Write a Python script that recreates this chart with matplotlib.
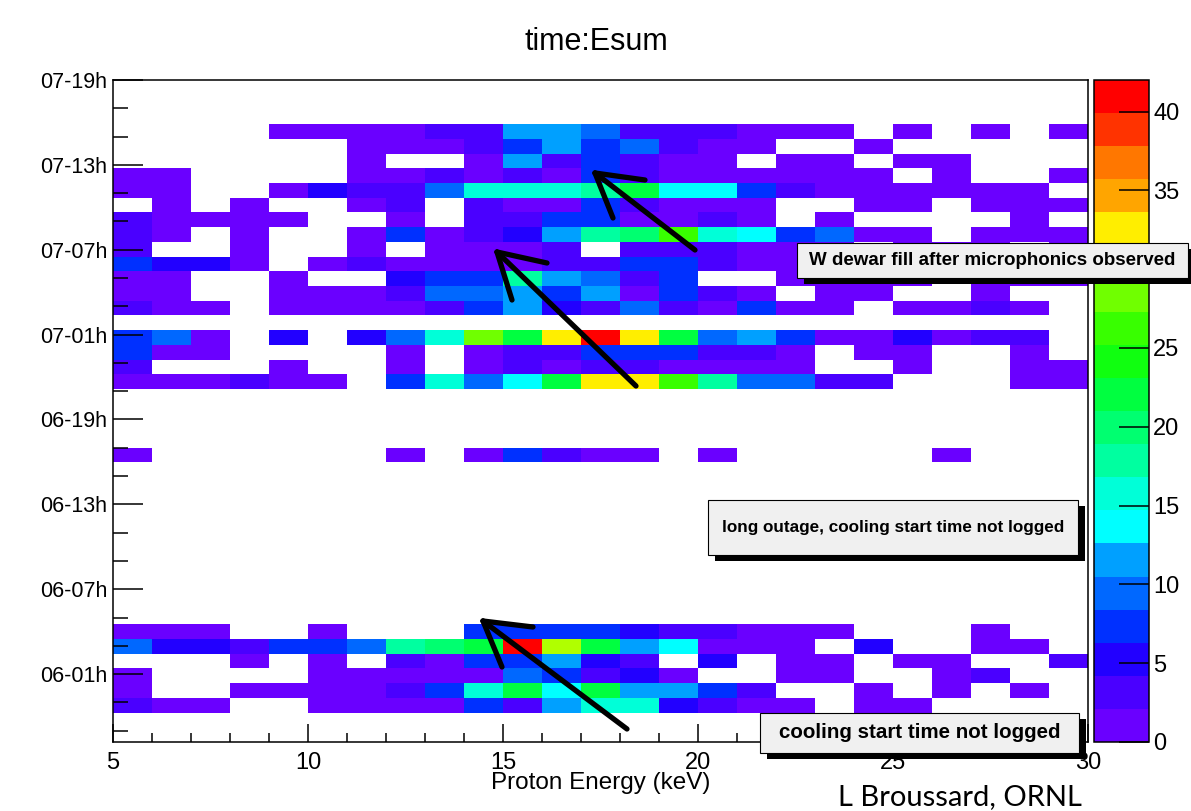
import numpy as np
import matplotlib
matplotlib.use("Agg")
import matplotlib.pyplot as plt
from matplotlib.colors import ListedColormap, BoundaryNorm
from matplotlib.patches import Rectangle
from matplotlib.lines import Line2D
from matplotlib.ticker import MultipleLocator, FixedLocator, NullLocator

plt.rcParams['font.family'] = ['Liberation Sans', 'DejaVu Sans']

# ---------------- data ----------------
energy_edges = np.arange(5, 31, 1)          # keV, 1 keV bins
time_start, time_stop, n_time_bins = -4.8, 42.0, 45   # hours relative to 06-01h
time_tick_hours = [0, 6, 12, 18, 24, 30, 36, 42]
time_tick_labels = ["06-01h", "06-07h", "06-13h", "06-19h",
                    "07-01h", "07-07h", "07-13h", "07-19h"]
z_max = 42
z_ticks = [0, 5, 10, 15, 20, 25, 30, 35, 40]
z_tick_labels = ["0", "5", "10", "15", "20", "25", "", "35", "40"]  # 30 is hidden under the note box

palette = ['#6a00ff', '#4a00ff', '#2200ff', '#0030ff', '#0068ff',
           '#00a0ff', '#00ffff', '#00ffd8', '#00ffa0', '#00ff70',
           '#00ff40', '#10ff10', '#38ff00', '#70ff00', '#b0ff00',
           '#ffee00', '#ffa500', '#ff7700', '#ff3300', '#ff0000']

# counts per time bin (row index from bottom), 25 energy bins each
row_counts = {
    41: [0, 0, 0, 0, 1, 1, 1, 1, 3, 3, 11, 11, 9.5, 3, 3, 3, 1, 1, 1, 0, 1, 0, 1, 0, 1],
    40: [0, 0, 0, 0, 0, 0, 1, 1, 1, 3, 7.5, 12, 8, 9.5, 3, 2, 1, 0, 0, 1, 0, 0, 0, 0, 0],
    39: [0, 0, 0, 0, 0, 0, 1, 0, 0, 1, 11, 3, 7, 3, 1, 1, 0, 1, 1, 0, 1, 1, 0, 0, 0],
    38: [1, 1, 0, 0, 0, 0, 1, 1, 3, 1, 3, 1, 7, 3, 1, 1, 1, 1, 1, 1, 0, 1, 0, 0, 1],
    37: [1, 1, 0, 0, 1, 5, 3, 3, 9.5, 15.5, 15.5, 15.5, 18, 22, 13.5, 13.5, 7, 3, 1, 1, 1, 1, 1, 1, 0],
    36: [0, 1, 0, 1, 0, 0, 1, 3, 0, 3, 1, 1, 7, 3, 1, 1, 1, 0, 0, 1, 1, 0, 1, 1, 1],
    35: [3, 1, 1, 1, 1, 0, 0, 1, 0, 3, 3, 8, 7, 1, 1, 3, 1, 0, 1, 0, 0, 0, 0, 1, 0],
    34: [3, 1, 0, 1, 0, 0, 1, 7, 1, 3, 5, 11, 18, 20, 27, 15.5, 13.5, 8, 8.5, 1, 1, 0, 1, 1, 1],
    33: [3, 0, 0, 1, 0, 0, 1, 0, 1, 1, 1, 3, 0, 3, 3, 3, 1, 1, 1, 0, 1, 1, 1, 0, 1],
    32: [7, 5, 5, 1, 0, 1, 3, 1, 1, 1, 1, 3, 3, 7, 7, 3, 1, 1, 1, 1, 1, 1, 1, 1, 1],
    31: [1, 1, 0, 0, 1, 0, 0, 5, 7, 8, 18, 12, 9.5, 3, 7, 0, 0, 1, 1, 1, 1, 0, 1, 1, 1],
    30: [1, 1, 0, 0, 1, 1, 1, 3, 9.5, 9.5, 11, 8, 12, 1, 7, 3, 1, 0, 1, 1, 0, 0, 1, 0, 0],
    29: [3, 1, 1, 0, 1, 1, 1, 1, 3, 7, 11, 5, 3, 9.5, 3, 1, 7, 1, 1, 0, 1, 1, 3, 1, 0],
    27: [7, 9.5, 2, 0, 5, 0, 5, 9.5, 15.5, 28, 22, 32.5, 41.5, 32.5, 22, 9.5, 11, 7, 1, 1, 5, 1, 3, 3, 0],
    26: [7, 1, 1, 0, 0, 0, 0, 1, 0, 1, 3, 3, 7, 7, 7, 3, 3, 1, 0, 1, 1, 0, 0, 1, 0],
    25: [3, 0, 0, 0, 1, 0, 0, 1, 0, 1, 3, 1, 3, 3, 1, 1, 1, 1, 0, 0, 1, 0, 0, 1, 1],
    24: [1, 1, 1, 3, 1, 1, 0, 7, 15.5, 8.5, 13.5, 22, 32.5, 32.5, 26, 17, 9.5, 9.5, 3, 3, 0, 0, 0, 1, 1],
    19: [1, 0, 0, 0, 0, 0, 0, 1, 0, 1, 7, 3, 1, 1, 0, 1, 0, 0, 0, 0, 0, 1, 0, 0, 0],
    7:  [1, 1, 1, 0, 0, 1, 0, 0, 0, 7, 7, 7, 7.5, 5, 3, 3, 1, 1, 1, 0, 0, 0, 1, 0, 0],
    6:  [9.5, 5, 5, 3, 7, 7, 9.5, 18, 20, 21, 40.5, 31, 22, 12, 13.5, 1, 1, 1, 0, 5, 0, 0, 1, 1, 0],
    5:  [0, 0, 0, 1, 0, 1, 0, 3, 1, 7, 8, 12, 5, 3, 0, 5, 0, 1, 1, 0, 1, 1, 0, 0, 3],
    4:  [1, 0, 0, 0, 0, 1, 1, 1, 1, 1, 9.5, 7, 3, 5, 1, 0, 0, 1, 1, 0, 0, 1, 3, 0, 0],
    3:  [1, 0, 0, 1, 1, 1, 1, 3, 7, 15.5, 21, 13.5, 22, 11, 12, 8, 3, 0, 0, 1, 0, 1, 0, 1, 0],
    2:  [3, 1, 1, 0, 0, 1, 1, 1, 1, 7, 3, 11, 16, 16, 5, 3, 1, 1, 0, 1, 1, 0, 0, 0, 0],
}

annotations = [
    ("W dewar fill after microphonics observed", (797, 243, 1188, 278), 13.5),
    ("long outage, cooling start time not logged", (708, 500, 1078, 555), 12.3),
    ("cooling start time not logged", (760, 713, 1079, 753), 14.8),
]

# ---------------- build ----------------
W, H = 1191, 811
def fx(p): return p / W
def fy(p): return 1 - p / H

time_edges = np.linspace(time_start, time_stop, n_time_bins + 1)
counts = np.zeros((n_time_bins, len(energy_edges) - 1))
for r, vals in row_counts.items():
    counts[r] = vals

cmap = ListedColormap(palette)
levels = np.linspace(0, z_max, len(palette) + 1)
norm = BoundaryNorm(levels, cmap.N)

fig = plt.figure(figsize=(W / 100, H / 100), dpi=100)
fig.patch.set_facecolor('white')
ax = fig.add_axes([fx(113), fy(742), (1088 - 113) / W, (742 - 80) / H])
mesh = ax.pcolormesh(energy_edges, time_edges, np.ma.masked_equal(counts, 0),
                     cmap=cmap, norm=norm, shading='flat',
                     edgecolors='none', linewidth=0, antialiased=False)
ax.set_xlim(energy_edges[0], energy_edges[-1])
ax.set_ylim(time_start, time_stop)

for s in ax.spines.values():
    s.set_linewidth(1.1)

ax.xaxis.set_major_locator(MultipleLocator(5))
ax.xaxis.set_minor_locator(MultipleLocator(1))
ax.tick_params(axis='x', which='major', direction='in', length=13, width=1.1,
               labelsize=17, pad=7, top=False)
ax.tick_params(axis='x', which='minor', direction='in', length=6.5, width=1.1, top=False)

ax.yaxis.set_major_locator(FixedLocator(time_tick_hours))
ax.set_yticklabels(time_tick_labels)
ax.yaxis.set_minor_locator(MultipleLocator(2))
ax.tick_params(axis='y', which='major', direction='in', length=21.6, width=1.1,
               labelsize=15.5, pad=4, right=False)
ax.tick_params(axis='y', which='minor', direction='in', length=10.8, width=1.1, right=False)

# axis title (placed like ROOT's)
fig.text(fx(601), fy(783), "Proton Energy (keV)", ha='center', va='center', fontsize=17.5)

# colorbar
cax = fig.add_axes([fx(1094), fy(742), 55 / W, (742 - 80) / H])
cb = fig.colorbar(mesh, cax=cax, ticks=z_ticks)
cb.ax.set_yticklabels(z_tick_labels)
cb.outline.set_linewidth(1.1)
cax.yaxis.set_minor_locator(NullLocator())
cax.tick_params(direction='in', length=21.6, width=1.1, labelsize=17, pad=3)

# title & credit
fig.text(fx(596), fy(42), "time:Esum", ha='center', va='center', fontsize=22)
fig.text(fx(960), fy(797), "L Broussard, ORNL", ha='center', va='center',
         fontsize=21, family=['Lato', 'DejaVu Sans'])

# arrows (figure pixel coordinates: tail, head, barb1, barb2)
arrows = [
    ((695, 250), (595, 173), (645, 180), (613, 218)),
    ((636, 386), (497, 252), (547, 263), (512, 300)),
    ((627, 729), (483, 621), (533, 627), (502, 667)),
]
for tail, head, b1, b2 in arrows:
    for p in (tail, b1, b2):
        fig.add_artist(Line2D([fx(p[0]), fx(head[0])], [fy(p[1]), fy(head[1])],
                              transform=fig.transFigure, color='black', lw=3.8,
                              solid_capstyle='round'))

# text boxes with shadow
for text, (x0, y0, x1, y1), size in annotations:
    fig.add_artist(Rectangle((fx(x0 + 7), fy(y1 + 6)), (x1 - x0) / W, (y1 - y0) / H,
                             transform=fig.transFigure, facecolor='black',
                             edgecolor='none', zorder=5))
    fig.add_artist(Rectangle((fx(x0), fy(y1)), (x1 - x0) / W, (y1 - y0) / H,
                             transform=fig.transFigure, facecolor='#f0f0f0',
                             edgecolor='black', lw=0.8, zorder=6))
    fig.text(fx((x0 + x1) / 2), fy((y0 + y1) / 2), text, ha='center', va='center',
             fontsize=size, fontweight='bold', zorder=7)

fig.savefig("out.png", dpi=100)
